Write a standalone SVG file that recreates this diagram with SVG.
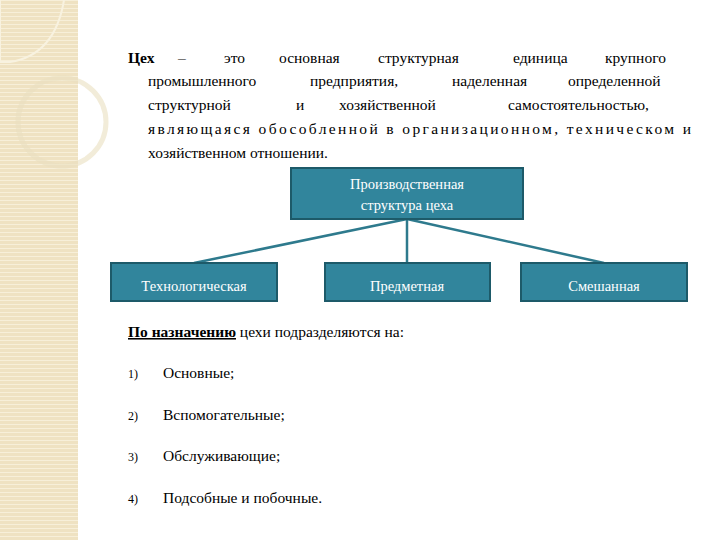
<svg xmlns="http://www.w3.org/2000/svg" width="720" height="540" viewBox="0 0 720 540">
<defs>
<pattern id="stripes" width="4" height="4" patternUnits="userSpaceOnUse">
<rect width="4" height="4" fill="#efe2c2"/><rect width="4" height="1" fill="#f7efd9"/>
</pattern>
<style>
text{font-family:'Liberation Serif','DejaVu Serif',serif}
.t{font-size:15.5px;fill:#000}
.b{font-size:14.5px;fill:#fff;text-anchor:middle}
.box{fill:#31859c;stroke:#1d5a69;stroke-width:2}
.num{font-size:12px;fill:#000}
</style>
</defs>
<rect width="720" height="540" fill="#fff"/>
<rect x="0" y="0" width="78" height="540" fill="url(#stripes)"/>
<path d="M0 0 V62 H10 Q55 55 64 0" fill="none" stroke="#f8f2e0" stroke-width="2"/>
<circle cx="62" cy="122" r="44" fill="none" stroke="#eadfbf" stroke-width="5" opacity="0.6"/>
<g id="text">
<text class="t" x="128" y="63"><tspan font-weight="bold">Цех</tspan><tspan x="178">–</tspan><tspan x="224">это</tspan><tspan x="279">основная</tspan><tspan x="378">структурная</tspan><tspan x="513">единица</tspan><tspan x="605">крупного</tspan></text>
<text class="t" y="86"><tspan x="148">промышленного</tspan><tspan x="310">предприятия,</tspan><tspan x="452">наделенная</tspan><tspan x="568">определенной</tspan></text>
<text class="t" y="110"><tspan x="148">структурной</tspan><tspan x="296">и</tspan><tspan x="339">хозяйственной</tspan><tspan x="508">самостоятельностью,</tspan></text>
<text class="t" x="148" y="134" textLength="543">являющаяся обособленной в организационном, техническом и</text>
<text class="t" x="148" y="158">хозяйственном отношении.</text>
<text class="t" x="128" y="337"><tspan font-weight="bold" text-decoration="underline">По назначению</tspan> цехи подразделяются на:</text>
<text class="num" x="128" y="378">1)</text><text class="t" x="163" y="378">Основные;</text>
<text class="num" x="128" y="420">2)</text><text class="t" x="163" y="420">Вспомогательные;</text>
<text class="num" x="128" y="461">3)</text><text class="t" x="163" y="461">Обслуживающие;</text>
<text class="num" x="128" y="503">4)</text><text class="t" x="163" y="503">Подсобные и побочные.</text>
</g>
<g id="connectors" stroke="#2e7a8d" stroke-width="2.5" fill="none">
<line x1="407" y1="219" x2="194" y2="263"/>
<line x1="407" y1="219" x2="407" y2="263"/>
<line x1="407" y1="219" x2="604" y2="263"/>
</g>
<g id="root"><rect class="box" x="291" y="168" width="232" height="51"/>
<text class="b" x="407" y="189">Производственная</text><text class="b" x="407" y="210">структура цеха</text></g>
<g id="tech"><rect class="box" x="111" y="263" width="166" height="38"/><text class="b" x="194" y="291">Технологическая</text></g>
<g id="pred"><rect class="box" x="325" y="263" width="165" height="38"/><text class="b" x="407" y="291">Предметная</text></g>
<g id="mix"><rect class="box" x="521" y="263" width="166" height="38"/><text class="b" x="604" y="291">Смешанная</text></g>
</svg>
